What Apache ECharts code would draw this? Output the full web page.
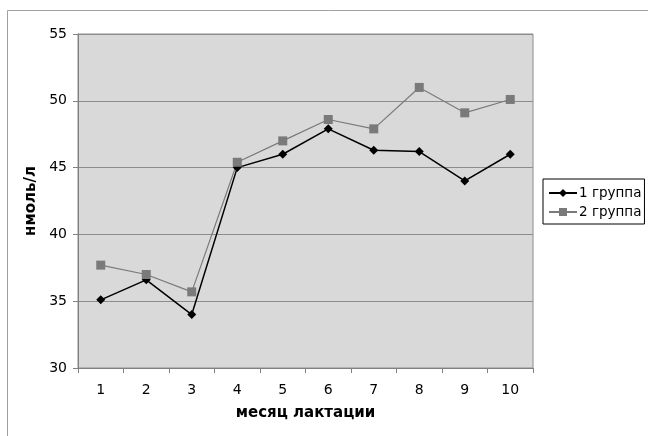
<!DOCTYPE html>
<html>
<head>
<meta charset="utf-8">
<script src="https://cdn.jsdelivr.net/npm/echarts@6/dist/echarts.min.js"></script>
<style>html,body{margin:0;padding:0;background:#fff}#c{width:648px;height:436px}</style>
</head>
<body>
<div id="c"></div>
<script>
const categories = ['1','2','3','4','5','6','7','8','9','10'];
const group1 = [35.1, 36.6, 34.0, 45.0, 46.0, 47.9, 46.3, 46.2, 44.0, 46.0];
const group2 = [37.7, 37.0, 35.7, 45.4, 47.0, 48.6, 47.9, 51.0, 49.1, 50.1];
const seriesNames = ['1 группа', '2 группа'];
const yTicks = {min: 30, max: 55, interval: 5};

const chart = echarts.init(document.getElementById('c'), null, {renderer: 'canvas'});
const font = '"DejaVu Sans", Arial, sans-serif';
chart.setOption({
  animation: false,
  backgroundColor: '#ffffff',
  graphic: [{
    type: 'rect', silent: true, z: -10,
    shape: {x: 7.5, y: 10.5, width: 660, height: 440},
    style: {fill: 'none', stroke: '#a0a0a0', lineWidth: 1}
  }],
  grid: {left: 78, top: 34, right: 115, bottom: 68, show: true,
    backgroundColor: '#d9d9d9', borderColor: '#8c8c8c', borderWidth: 1},
  legend: {
    orient: 'vertical', left: 543, top: 179,
    padding: [6, 3, 4, 5], itemGap: 3, itemWidth: 28, itemHeight: 10,
    borderColor: '#000', borderWidth: 1, backgroundColor: '#fff',
    textStyle: {fontFamily: font, fontSize: 13.5, lineHeight: 16, color: '#000', padding: [0,0,0,-3]},
    data: seriesNames
  },
  xAxis: {
    type: 'category', data: categories, boundaryGap: true,
    name: 'месяц лактации', nameLocation: 'middle', nameGap: 38,
    nameTextStyle: {fontFamily: font, fontSize: 15, fontWeight: 'bold', color: '#000'},
    axisLine: {lineStyle: {color: '#808080', width: 1}},
    axisTick: {show: true, length: 5, inside: false, lineStyle: {color: '#808080'}},
    axisLabel: {fontFamily: font, fontSize: 14, color: '#000', margin: 15},
    splitLine: {show: false}
  },
  yAxis: {
    type: 'value', min: yTicks.min, max: yTicks.max, interval: yTicks.interval,
    name: 'нмоль/л', nameLocation: 'middle', nameGap: 37, nameRotate: 90,
    nameTextStyle: {fontFamily: font, fontSize: 15, fontWeight: 'bold', color: '#000'},
    axisLine: {show: true, lineStyle: {color: '#808080', width: 1}},
    axisTick: {show: true, length: 5, lineStyle: {color: '#808080'}},
    axisLabel: {fontFamily: font, fontSize: 14, color: '#000', margin: 11},
    splitLine: {show: true, lineStyle: {color: '#8c8c8c', width: 1}}
  },
  series: [{
    name: seriesNames[0], type: 'line', data: group1,
    symbol: 'diamond', symbolSize: 9,
    lineStyle: {color: '#000', width: 1.5},
    itemStyle: {color: '#000'}
  }, {
    name: seriesNames[1], type: 'line', data: group2,
    symbol: 'rect', symbolSize: 9,
    lineStyle: {color: '#7a7a7a', width: 1.2},
    itemStyle: {color: '#7a7a7a'}
  }]
});
</script>
</body>
</html>
